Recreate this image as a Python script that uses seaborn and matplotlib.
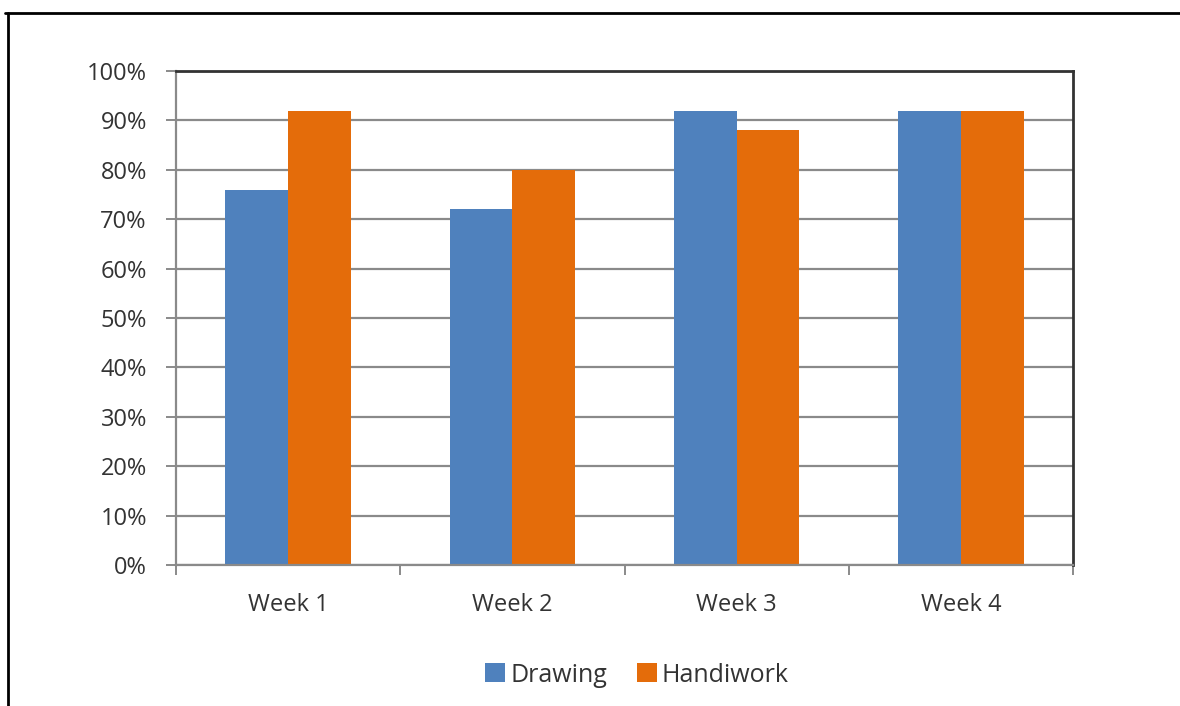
import matplotlib
matplotlib.use("Agg")
import matplotlib.pyplot as plt
from matplotlib.lines import Line2D
from matplotlib.patches import Patch
from matplotlib.ticker import PercentFormatter
import seaborn as sns
import pandas as pd

weeks = ["Week 1", "Week 2", "Week 3", "Week 4"]
series_names = ["Drawing", "Handiwork"]
drawing = [76, 72, 92, 92]
handiwork = [92, 80, 88, 92]
colors = ["#4F81BD", "#E46C0A"]

df = pd.DataFrame({
    "week": weeks * 2,
    "series": [series_names[0]] * len(weeks) + [series_names[1]] * len(weeks),
    "value": drawing + handiwork,
})

sns.set_theme(style="white")
plt.rcParams["font.family"] = ["Open Sans", "DejaVu Sans"]

fig = plt.figure(figsize=(11.8, 7.06), dpi=100)
ax = fig.add_axes([176 / 1180, 1 - 565 / 706, (1073 - 176) / 1180, (565 - 71) / 706])

sns.barplot(data=df, x="week", y="value", hue="series", palette=colors,
            width=0.56, saturation=1, ax=ax, legend=False, linewidth=0)

ax.set_ylim(0, 100)
ax.set_xlim(-0.5, 3.5)
ax.set_yticks(range(0, 101, 10))
ax.yaxis.set_major_formatter(PercentFormatter(decimals=0))
ax.set_xlabel("")
ax.set_ylabel("")
ax.yaxis.grid(True, color="#8a8a8a", linewidth=1.6)
ax.set_axisbelow(True)

for s in ["top", "right"]:
    ax.spines[s].set_color("#333333")
    ax.spines[s].set_linewidth(2)
for s in ["left", "bottom"]:
    ax.spines[s].set_color("#8a8a8a")
    ax.spines[s].set_linewidth(1.6)

text_color = "#333333"
fs = 17
ax.tick_params(axis="y", which="major", left=True, length=7, width=1.4, color="#8a8a8a",
               labelsize=fs, labelcolor=text_color, pad=14)
ax.set_xticks([0, 1, 2, 3])
ax.set_xticklabels(weeks)
ax.tick_params(axis="x", which="major", bottom=False, labelsize=fs, labelcolor=text_color, pad=14)
ax.set_xticks([-0.5, 0.5, 1.5, 2.5, 3.5], minor=True)
ax.tick_params(axis="x", which="minor", bottom=True, length=7, width=1.4, color="#8a8a8a")

handles = [Patch(facecolor=c, edgecolor="none") for c in colors]
fig.legend(handles, series_names, loc="center", bbox_to_anchor=(637 / 1180, 1 - 675 / 706),
           ncol=2, frameon=False, fontsize=18, handlelength=0.8, handleheight=0.8,
           handletextpad=0.2, columnspacing=1.2, labelcolor=text_color)

# outer frame
fig.add_artist(Line2D([5 / 1180, 1], [1 - 13 / 706, 1 - 13 / 706], transform=fig.transFigure,
                      color="black", linewidth=2))
fig.add_artist(Line2D([8 / 1180, 8 / 1180], [0, 1 - 13 / 706], transform=fig.transFigure,
                      color="black", linewidth=2))

fig.savefig("out.png", dpi=100)
